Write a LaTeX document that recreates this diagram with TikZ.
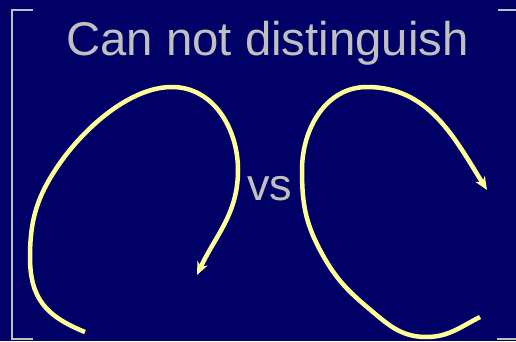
\documentclass[tikz,border=0pt]{standalone}
\usepackage{fontspec}
\setmainfont{Liberation Sans}
\usetikzlibrary{arrows.meta,positioning}

\definecolor{slidebg}{RGB}{0,0,102}
\definecolor{slidetext}{RGB}{192,192,192}
\definecolor{loopyellow}{RGB}{255,255,153}

\begin{document}
\begin{tikzpicture}[x=1pt,y=1pt,
    frame/.style={slidetext,line width=2pt},
    loop/.style={loopyellow,line width=4.5pt,-{Stealth[length=13pt,width=11pt,inset=4pt]}},
    label/.style={slidetext,inner sep=0pt}]
    \useasboundingbox (0,0) rectangle (516,341);
    \fill[slidebg] (0,0) rectangle (516,341);
    \clip (0,0) rectangle (516,341);

    % Side brackets
    \draw[frame] (33,331) -- (12,331) -- (12,2) -- (33,2);
    \draw[frame] (498,331) -- (522,331) -- (522,2) -- (497,2);

    % Texts
    \node[label,anchor=base,font=\fontsize{47.3}{50}\selectfont] (title) at (267.5,286) {Can not distinguish};
    \node[label,anchor=base,font=\fontsize{45}{48}\selectfont] (vs) at (269.5,141) {vs};

    % Left loop
    \coordinate (l0) at (85,9);
    \coordinate (l1) at (30,84);
    \coordinate (l2) at (60,178);
    \coordinate (l3) at (172,254);
    \coordinate (l4) at (238,171);
    \coordinate (l5) at (197,66);
    \draw[loop] (l0) to[out=158,in=-90,looseness=1.15] (l1) to[out=90,in=235] (l2)
        to[out=55,in=180,looseness=0.8] (l3) to[out=0,in=90] (l4) to[out=-90,in=65] (l5);

    % Right loop
    \coordinate (r0) at (480,24);
    \coordinate (r1) at (426,4);
    \coordinate (r2) at (367,34);
    \coordinate (r3) at (320,91);
    \coordinate (r4) at (302,171);
    \coordinate (r5) at (367,254);
    \coordinate (r6) at (487,151);
    \draw[loop] (r0) to[out=207,in=0] (r1) to[out=180,in=-40] (r2) to[out=140,in=-62] (r3)
        to[out=118,in=-90] (r4) to[out=90,in=180] (r5) to[out=0,in=122] (r6);
\end{tikzpicture}
\end{document}
